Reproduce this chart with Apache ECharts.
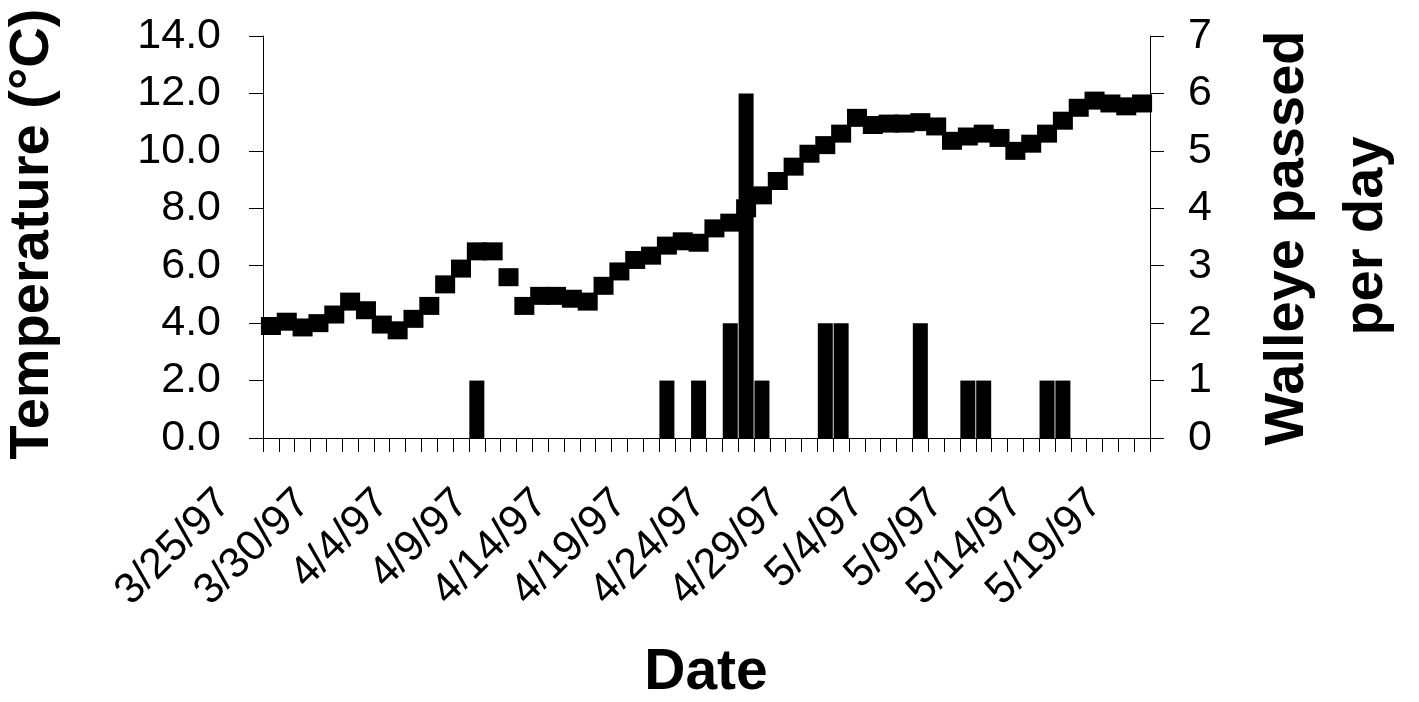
<!DOCTYPE html>
<html>
<head>
<meta charset="utf-8">
<script src="https://cdn.jsdelivr.net/npm/echarts@6/dist/echarts.min.js"></script>
<style>
html,body{margin:0;padding:0;background:#fff;}
#chart{width:1419px;height:702px;}
</style>
</head>
<body>
<div id="chart"></div>
<script>
// Dates 3/25/97 .. 5/19/97 (one category per day)
const dates = [
  "3/25/97","3/26/97","3/27/97","3/28/97","3/29/97","3/30/97","3/31/97",
  "4/1/97","4/2/97","4/3/97","4/4/97","4/5/97","4/6/97","4/7/97","4/8/97","4/9/97",
  "4/10/97","4/11/97","4/12/97","4/13/97","4/14/97","4/15/97","4/16/97","4/17/97",
  "4/18/97","4/19/97","4/20/97","4/21/97","4/22/97","4/23/97","4/24/97","4/25/97",
  "4/26/97","4/27/97","4/28/97","4/29/97","4/30/97",
  "5/1/97","5/2/97","5/3/97","5/4/97","5/5/97","5/6/97","5/7/97","5/8/97","5/9/97",
  "5/10/97","5/11/97","5/12/97","5/13/97","5/14/97","5/15/97","5/16/97","5/17/97",
  "5/18/97","5/19/97"
];

// Water temperature (°C)
const temperature = [
  3.9, 4.05, 3.85, 4.0, 4.3, 4.75, 4.45, 3.95, 3.75, 4.15,
  4.6, 5.35, 5.9, 6.5, 6.5, 5.6, 4.6, 4.95, 4.95, 4.85,
  4.75, 5.3, 5.8, 6.2, 6.35, 6.7, 6.85, 6.8, 7.3, 7.5,
  8.0, 8.45, 8.95, 9.45, 9.9, 10.2, 10.6, 11.15, 10.9, 10.95,
  10.95, 11.0, 10.85, 10.35, 10.5, 10.6, 10.45, 10.0, 10.25, 10.6,
  11.05, 11.5, 11.75, 11.65, 11.55, 11.65
];

// Walleye passed per day
const walleye = [
  0, 0, 0, 0, 0, 0, 0, 0, 0, 0,
  0, 0, 0, 1, 0, 0, 0, 0, 0, 0,
  0, 0, 0, 0, 0, 1, 0, 1, 0, 2,
  6, 1, 0, 0, 0, 2, 2, 0, 0, 0,
  0, 2, 0, 0, 1, 1, 0, 0, 0, 1,
  1, 0, 0, 0, 0, 0
];

const leftTicks = { min: 0, max: 14, interval: 2 };
const rightTicks = { min: 0, max: 7, interval: 1 };

const FONT = "'Liberation Sans', Arial, sans-serif";

const chart = echarts.init(document.getElementById('chart'), null, { renderer: 'canvas' });

const axisLineStyle = { color: '#000', width: 1 };

chart.setOption({
  animation: false,
  backgroundColor: '#fff',
  grid: { left: 263, right: 269, top: 36, bottom: 264 },
  xAxis: {
    type: 'category',
    data: dates,
    boundaryGap: true,
    axisLine: { show: true, lineStyle: axisLineStyle },
    axisTick: { show: true, interval: 0, length: 14, lineStyle: { color: '#000', width: 1 } },
    axisLabel: {
      interval: 4,
      rotate: 45,
      margin: 12,
      padding: [0, 66, 0, 0],
      color: '#000',
      fontFamily: FONT,
      fontSize: 43
    },
    splitLine: { show: false }
  },
  yAxis: [
    {
      type: 'value',
      position: 'left',
      min: leftTicks.min, max: leftTicks.max, interval: leftTicks.interval,
      axisLine: { show: true, lineStyle: axisLineStyle },
      axisTick: { show: true, length: 14, lineStyle: { color: '#000', width: 1 } },
      axisLabel: {
        margin: 42, color: '#000', fontFamily: FONT, fontSize: 43,
        formatter: v => v.toFixed(1)
      },
      splitLine: { show: false }
    },
    {
      type: 'value',
      position: 'right',
      min: rightTicks.min, max: rightTicks.max, interval: rightTicks.interval,
      axisLine: { show: true, lineStyle: axisLineStyle },
      axisTick: { show: true, length: 14, lineStyle: { color: '#000', width: 1 } },
      axisLabel: { margin: 38, color: '#000', fontFamily: FONT, fontSize: 43 },
      splitLine: { show: false }
    }
  ],
  series: [
    {
      name: 'Walleye passed per day',
      type: 'bar',
      yAxisIndex: 1,
      data: walleye,
      barWidth: 15,
      itemStyle: { color: '#000' },
      z: 2
    },
    {
      name: 'Temperature',
      type: 'line',
      yAxisIndex: 0,
      data: temperature,
      symbol: 'rect',
      symbolSize: [20, 18],
      showSymbol: true,
      showAllSymbol: true,
      lineStyle: { width: 0, opacity: 0 },
      itemStyle: { color: '#000', borderWidth: 0 },
      z: 3
    }
  ],
  graphic: [
    {
      type: 'text', x: 33, y: 234, rotation: Math.PI / 2,
      style: { text: 'Temperature (°C)', font: "bold 56px " + FONT, fill: '#000', textAlign: 'center', textVerticalAlign: 'middle' }
    },
    {
      type: 'text', x: 1288, y: 238, rotation: Math.PI / 2,
      style: { text: 'Walleye passed', font: "bold 56px " + FONT, fill: '#000', textAlign: 'center', textVerticalAlign: 'middle' }
    },
    {
      type: 'text', x: 1367, y: 236, rotation: Math.PI / 2,
      style: { text: 'per day', font: "bold 56px " + FONT, fill: '#000', textAlign: 'center', textVerticalAlign: 'middle' }
    },
    {
      type: 'text', x: 706, y: 673,
      style: { text: 'Date', font: "bold 57px " + FONT, fill: '#000', textAlign: 'center', textVerticalAlign: 'middle' }
    }
  ]
});
</script>
</body>
</html>
